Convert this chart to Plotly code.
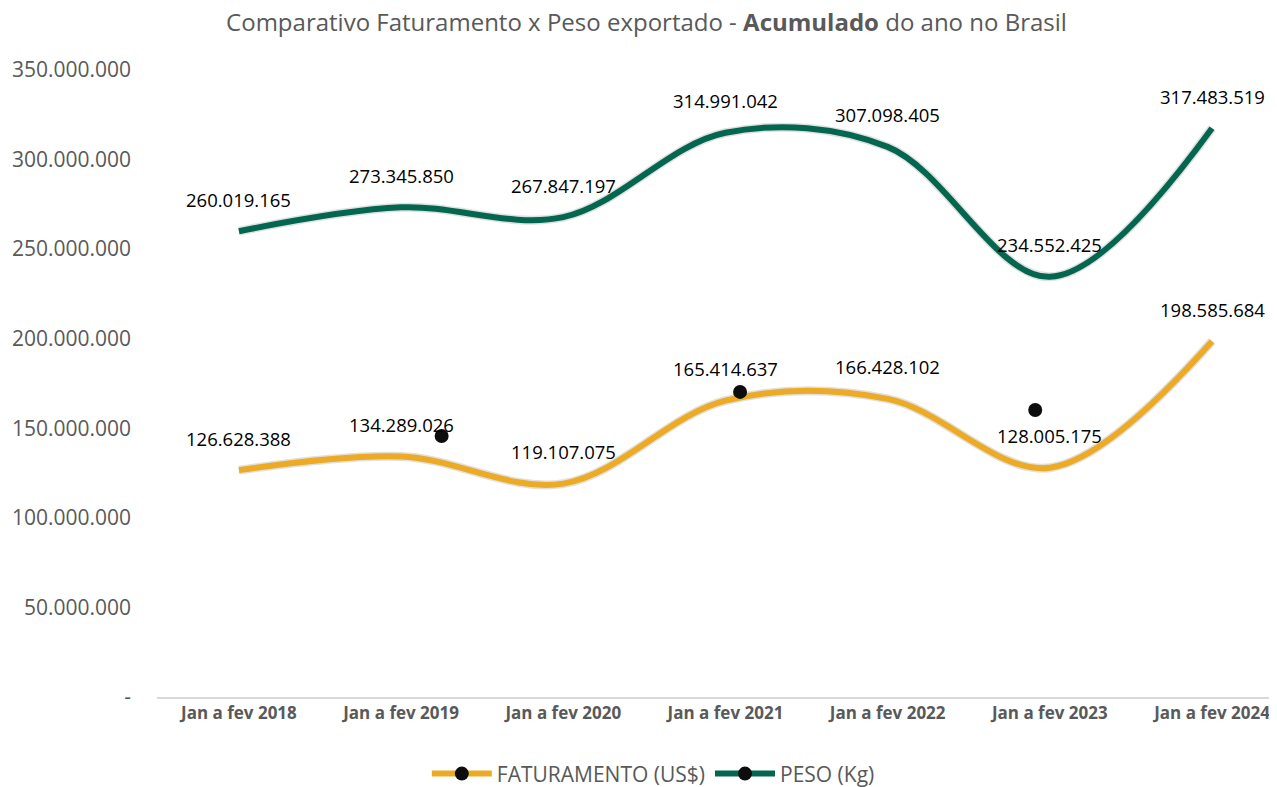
import plotly.graph_objects as go

categorias = ["Jan a fev 2018", "Jan a fev 2019", "Jan a fev 2020", "Jan a fev 2021",
              "Jan a fev 2022", "Jan a fev 2023", "Jan a fev 2024"]
faturamento = [126628388, 134289026, 119107075, 165414637, 166428102, 128005175, 198585684]
peso = [260019165, 273345850, 267847197, 314991042, 307098405, 234552425, 317483519]

# pontos soltos que aparecem no grafico original
pontos_x = [1.25, 3.09, 4.91]
pontos_y = [145700000, 170300000, 160200000]

tick_vals = [0, 50e6, 100e6, 150e6, 200e6, 250e6, 300e6, 350e6]


def fmt(v):
    return f"{v:,.0f}".replace(",", ".")


tick_text = ["-"] + [fmt(v) for v in tick_vals[1:]]

GOLD = "#EDAA25"
GREEN = "#03664F"
FONT = "Open Sans"

x = list(range(len(categorias)))

fig = go.Figure()
for serie, cor in [(faturamento, GOLD), (peso, GREEN)]:
    fig.add_trace(go.Scatter(x=x, y=serie, mode="lines", showlegend=False,
                             line=dict(color="rgba(0,0,0,0.12)", width=9, shape="spline", smoothing=1.0),
                             hoverinfo="skip"))
    fig.add_trace(go.Scatter(x=x, y=serie, mode="lines", showlegend=False,
                             line=dict(color=cor, width=6, shape="spline", smoothing=1.0)))

fig.add_trace(go.Scatter(x=pontos_x, y=pontos_y, mode="markers", showlegend=False,
                         marker=dict(color="#0d0d0d", size=14)))

# legenda
for nome, cor in [("FATURAMENTO (US$)", GOLD), ("PESO (Kg)", GREEN)]:
    fig.add_trace(go.Scatter(x=[None], y=[None], mode="lines+markers", name=nome,
                             line=dict(color=cor, width=6),
                             marker=dict(color="#0d0d0d", size=14)))

for serie in (faturamento, peso):
    for xi, v in zip(x, serie):
        fig.add_annotation(x=xi, y=v, text=fmt(v), showarrow=False, yshift=32,
                           font=dict(family=FONT, size=18.5, color="#000000"))

fig.update_layout(
    width=1277, height=787,
    paper_bgcolor="white", plot_bgcolor="white",
    margin=dict(l=149, r=0, t=62, b=98),
    title=dict(text="Comparativo Faturamento x Peso exportado - <b>Acumulado</b> do ano no Brasil",
               x=0.5, xanchor="center", y=0.981, yanchor="middle",
               font=dict(family=FONT, size=24, color="#595959")),
    font=dict(family=FONT, color="#595959"),
    legend=dict(orientation="h", x=0.44, xanchor="center", y=-0.09, yanchor="top",
                font=dict(family=FONT, size=21, color="#595959"), itemwidth=60),
    xaxis=dict(tickvals=x, ticktext=[f"<b>{c}</b>" for c in categorias],
               range=[-0.505, 6.45], showgrid=False, zeroline=False, automargin=False,
               showline=True, linecolor="#d9d9d9", linewidth=1.5,
               tickfont=dict(family=FONT, size=17, color="#595959"), ticks=""),
    yaxis=dict(range=[0, 350e6], tickvals=tick_vals, ticktext=tick_text, automargin=False,
               showgrid=False, zeroline=False, showline=False,
               tickfont=dict(family=FONT, size=21, color="#595959"), ticks="",
               ticklabelstandoff=25),
)

fig.write_html("out.html")
